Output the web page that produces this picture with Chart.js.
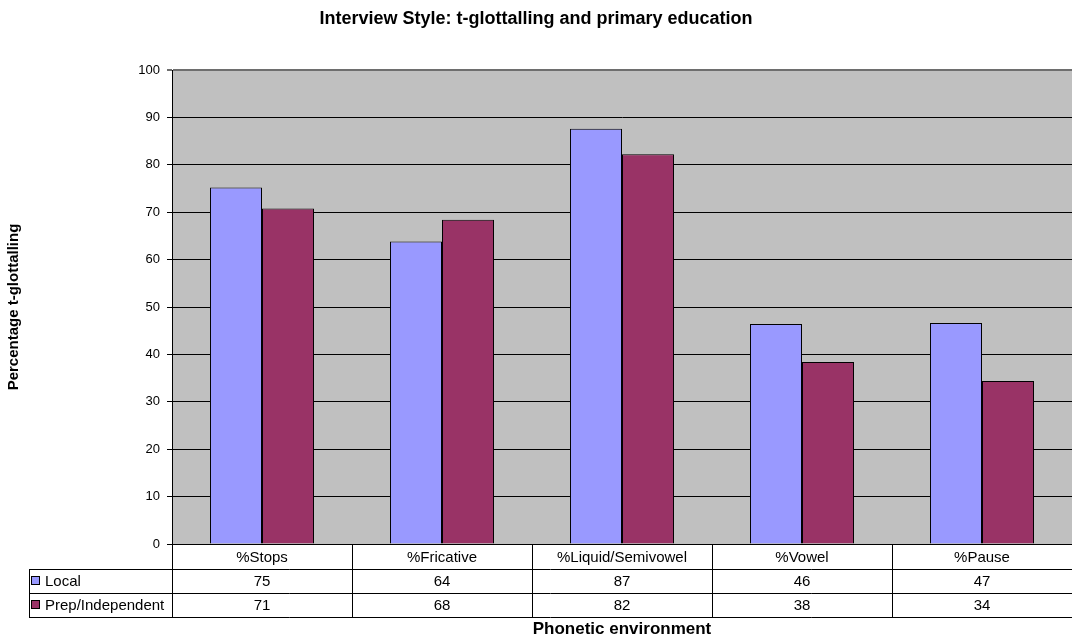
<!DOCTYPE html>
<html>
<head>
<meta charset="utf-8">
<title>Interview Style: t-glottalling and primary education</title>
<script src="https://cdn.jsdelivr.net/npm/chart.js@4.4.1/dist/chart.umd.min.js"></script>
<style>
  body { margin: 0; background: #fff; }
  canvas { display: block; }
</style>
</head>
<body>
<canvas id="chart" width="1072" height="638"></canvas>
<script>
// values
const categories = ['%Stops', '%Fricative', '%Liquid/Semivowel', '%Vowel', '%Pause'];
const seriesNames = ['Local', 'Prep/Independent'];
const localValues = [75.2, 63.8, 87.6, 46.4, 46.6];
const prepValues = [70.8, 68.4, 82.2, 38.4, 34.4];
// numbers printed in the data table
const localTable = ['75', '64', '87', '46', '47'];
const prepTable = ['71', '68', '82', '38', '34'];
const yTicks = [0, 10, 20, 30, 40, 50, 60, 70, 80, 90, 100];

const colors = ['#9999FF', '#993366'];
const tableRows = [localTable, prepTable];
const FONT = '"Liberation Sans", Arial, sans-serif';

Chart.defaults.font.family = FONT;
Chart.defaults.color = '#000';

// grey plot background like the Excel original
const plotBg = {
    id: 'plotBg',
    beforeDraw(chart) {
        const a = chart.chartArea;
        const ctx = chart.ctx;
        ctx.save();
        ctx.fillStyle = '#C0C0C0';
        ctx.fillRect(a.left, a.top, a.right - a.left, a.bottom - a.top);
        ctx.restore();
    }
};

// data table under the x axis
const dataTable = {
    id: 'dataTable',
    afterDraw(chart) {
        const ctx = chart.ctx;
        const xs = chart.scales.x;
        const a = chart.chartArea;
        const colW = (a.right - a.left) / categories.length;
        const rowY = [a.bottom, a.bottom + 25, a.bottom + 49, a.bottom + 73];
        const legendLeft = 29;

        ctx.save();
        ctx.strokeStyle = '#000';
        ctx.lineWidth = 1;
        ctx.beginPath();
        for (let r = 1; r < rowY.length; r++) {
            ctx.moveTo(legendLeft, rowY[r] + 0.5);
            ctx.lineTo(a.right, rowY[r] + 0.5);
        }
        ctx.moveTo(legendLeft + 0.5, rowY[1]);
        ctx.lineTo(legendLeft + 0.5, rowY[3] + 1);
        for (let i = 0; i < categories.length; i++) {
            const x = Math.round(xs.getPixelForValue(i) - colW / 2) + 0.5;
            ctx.moveTo(x, rowY[0]);
            ctx.lineTo(x, rowY[3] + 1);
        }
        ctx.stroke();

        ctx.fillStyle = '#000';
        ctx.font = '15px ' + FONT;
        ctx.textAlign = 'center';
        ctx.textBaseline = 'middle';
        for (let i = 0; i < categories.length; i++) {
            const cx = xs.getPixelForValue(i);
            ctx.fillText(categories[i], cx, (rowY[0] + rowY[1]) / 2 + 1);
            for (let r = 0; r < tableRows.length; r++) {
                ctx.fillText(tableRows[r][i], cx, (rowY[r + 1] + rowY[r + 2]) / 2 + 1);
            }
        }

        // legend keys + series names
        ctx.textAlign = 'left';
        for (let r = 0; r < seriesNames.length; r++) {
            const cy = (rowY[r + 1] + rowY[r + 2]) / 2;
            ctx.fillStyle = colors[r];
            ctx.fillRect(31.5, cy - 4.5, 8, 8);
            ctx.strokeRect(31.5, cy - 4.5, 8, 8);
            ctx.fillStyle = '#000';
            ctx.fillText(seriesNames[r], 45, cy + 1);
        }
        ctx.restore();
    }
};

const chart = new Chart(document.getElementById('chart'), {
    type: 'bar',
    data: {
        labels: categories,
        datasets: [{
            label: seriesNames[0],
            data: localValues,
            backgroundColor: colors[0],
            borderColor: '#000',
            borderWidth: 1
        }, {
            label: seriesNames[1],
            data: prepValues,
            backgroundColor: colors[1],
            borderColor: '#000',
            borderWidth: 1
        }]
    },
    options: {
        responsive: false,
        animation: false,
        layout: { padding: 0 },
        datasets: { bar: { categoryPercentage: 0.578, barPercentage: 1 } },
        plugins: {
            legend: { display: false },
            tooltip: { enabled: false },
            title: {
                display: true,
                text: 'Interview Style: t-glottalling and primary education',
                color: '#000',
                font: { size: 18, weight: 'bold' },
                padding: { top: 8.2, bottom: 40.2 }
            }
        },
        scales: {
            x: {
                grid: { display: false },
                border: { display: true, color: '#000', width: 1 },
                ticks: { display: false },
                title: {
                    display: true,
                    text: 'Phonetic environment',
                    color: '#000',
                    font: { size: 17, weight: 'bold', lineHeight: 1 },
                    padding: { top: 0, bottom: 0 }
                },
                afterFit(scale) { scale.height = 94; }
            },
            y: {
                min: yTicks[0],
                max: yTicks[yTicks.length - 1],
                afterBuildTicks(scale) { scale.ticks = yTicks.map(v => ({ value: v })); },
                ticks: { color: '#000', font: { size: 13 }, padding: 7 },
                grid: {
                    color: ctx => ctx.tick && ctx.tick.value === 100 ? '#6e6e6e' : '#000',
                    lineWidth: ctx => ctx.tick && ctx.tick.value === 100 ? 2 : 1,
                    tickLength: 5
                },
                border: { display: true, color: '#000', width: 1 },
                title: {
                    display: true,
                    text: 'Percentage t-glottalling',
                    color: '#000',
                    font: { size: 15, weight: 'bold' },
                    padding: { top: 5, bottom: 0 }
                },
                afterFit(scale) { scale.width = 172; }
            }
        }
    },
    plugins: [plotBg, dataTable]
});
</script>
</body>
</html>
